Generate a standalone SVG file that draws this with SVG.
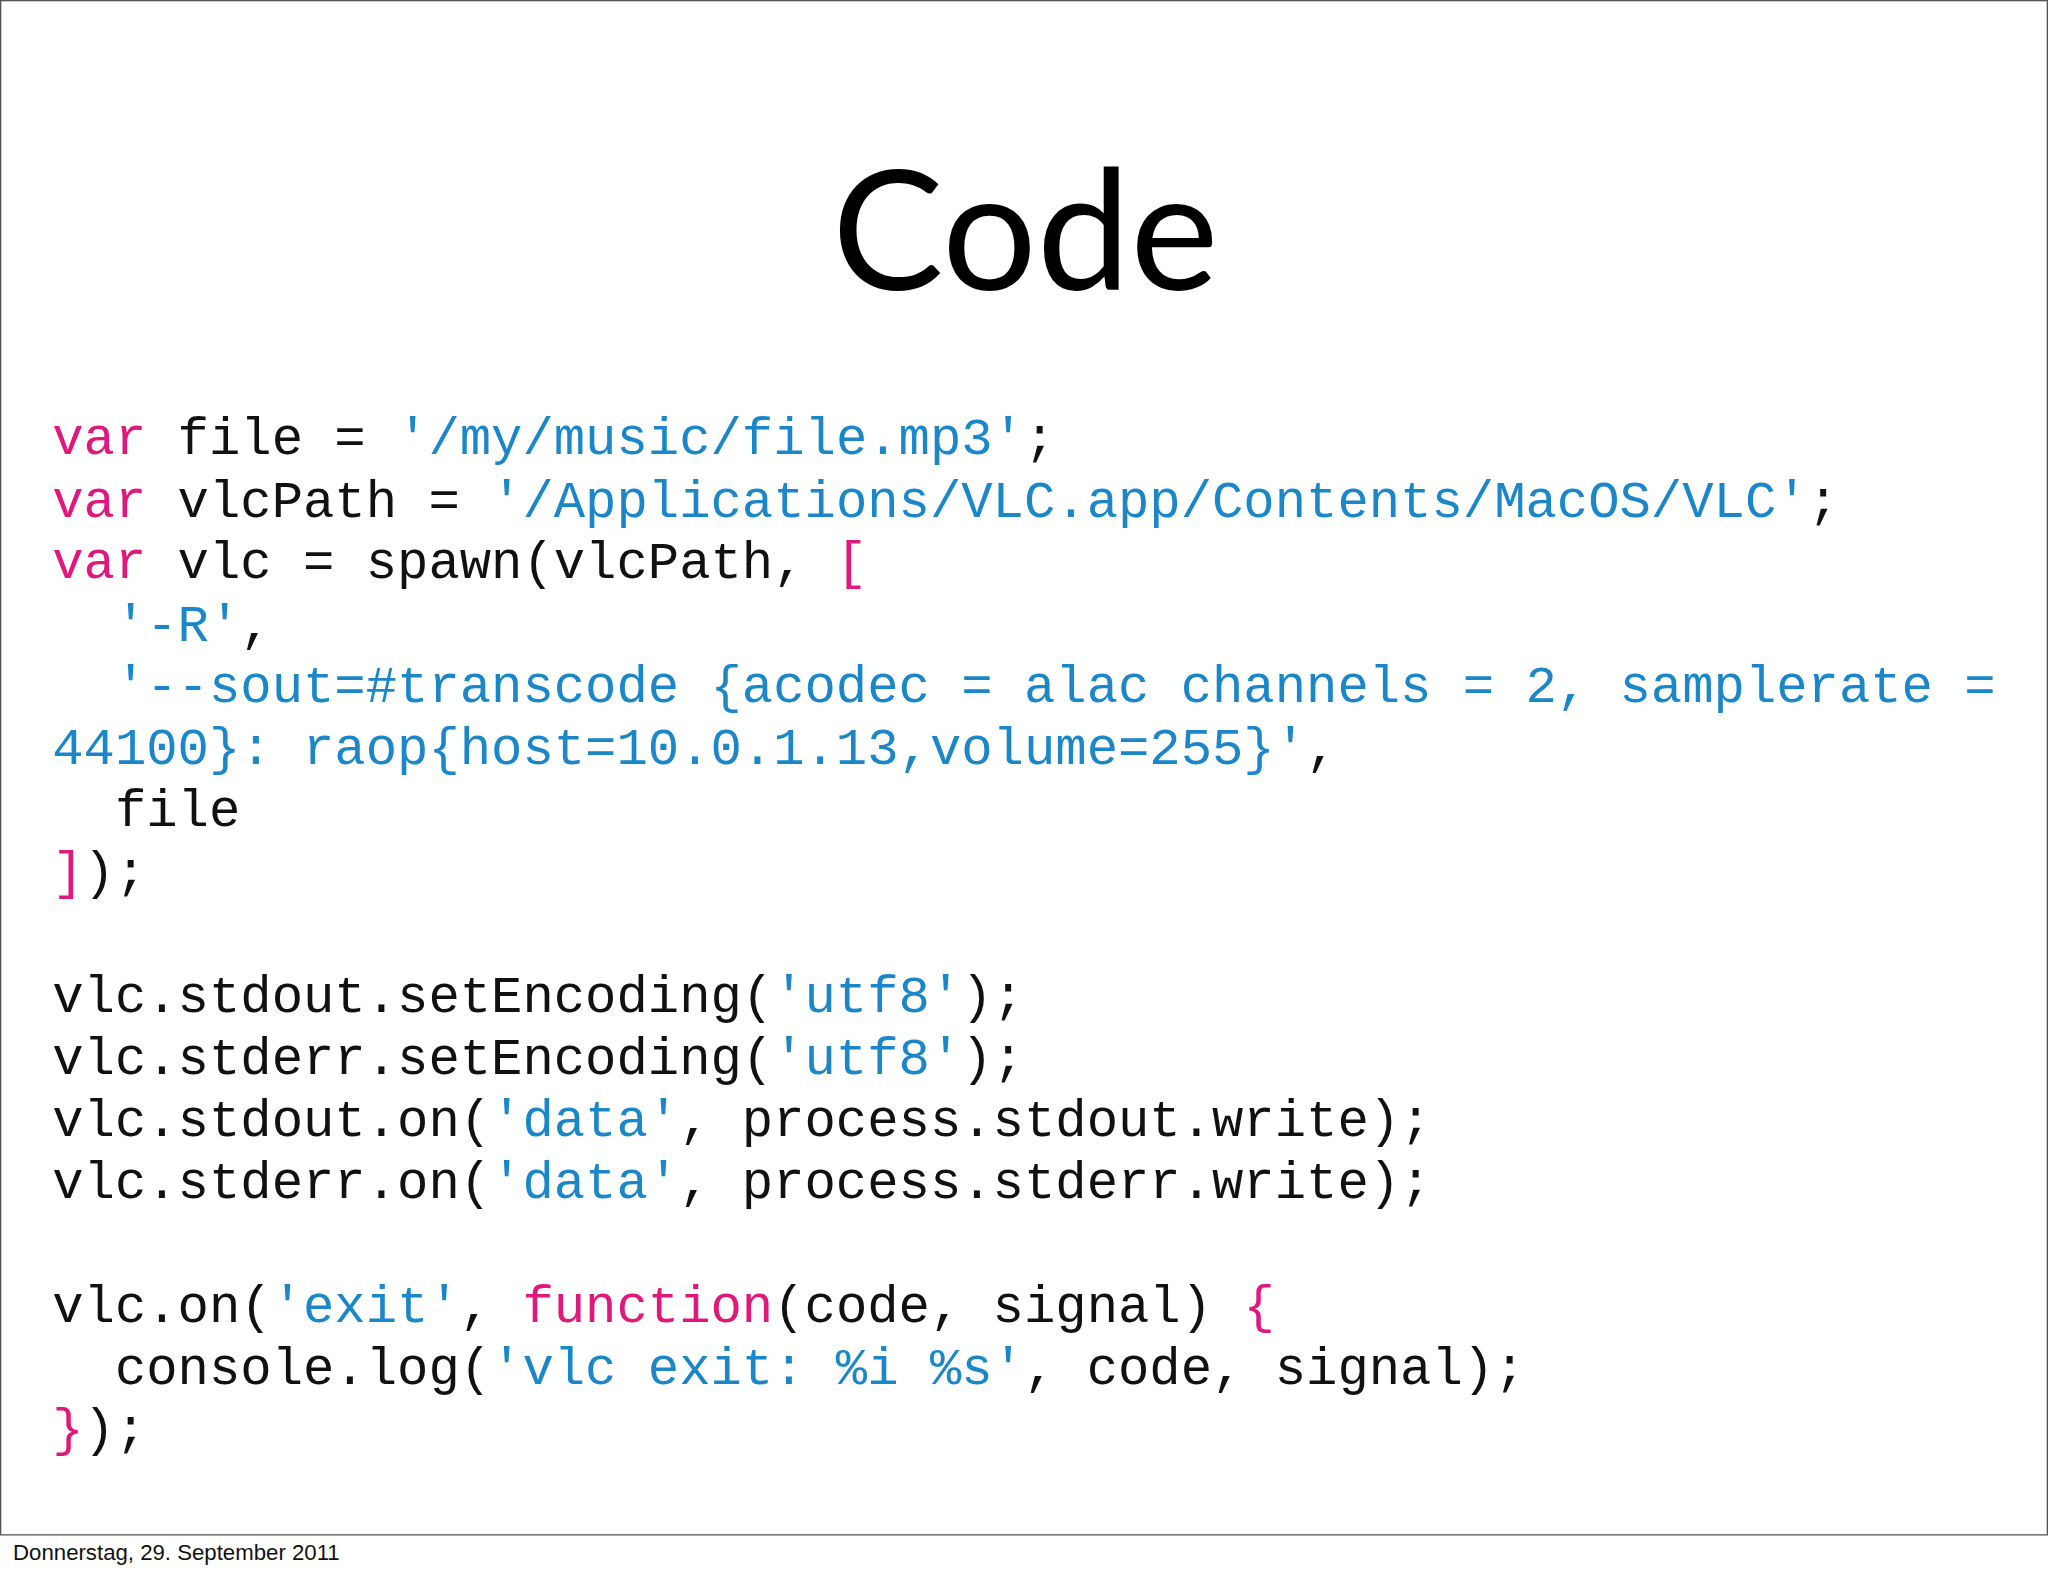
<svg xmlns="http://www.w3.org/2000/svg" width="2048" height="1576" viewBox="0 0 2048 1576">
<style>
.c{font-family:"Liberation Mono","DejaVu Sans Mono",monospace;font-size:40px;fill:#111;white-space:pre}
.k{fill:#e0187c}.s{fill:#1b87c9}
</style>
<rect width="2048" height="1576" fill="#fff"/>
<g transform="scale(1.30612,1.3046)">
<rect x="0.5" y="0.5" width="1567" height="1176" fill="#fff" stroke="#555" stroke-width="1"/>
<g id="title"><text x="785" y="222" text-anchor="middle" font-family="Lato,'Open Sans',sans-serif" font-size="128" fill="#000">Code</text></g>
<g id="code" class="c" xml:space="preserve">
<text x="40" y="348" class="c"><tspan class="k">var</tspan> file = <tspan class="s">'/my/music/file.mp3'</tspan>;</text>
<text x="40" y="396" class="c"><tspan class="k">var</tspan> vlcPath = <tspan class="s">'/Applications/VLC.app/Contents/MacOS/VLC'</tspan>;</text>
<text x="40" y="443" class="c"><tspan class="k">var</tspan> vlc = spawn(vlcPath, <tspan class="k">[</tspan></text>
<text x="40" y="491" class="c">  <tspan class="s">'-R'</tspan>,</text>
<text x="40" y="538" class="c">  <tspan class="s">'--sout=#transcode {acodec = alac channels = 2, samplerate =</tspan></text>
<text x="40" y="586" class="c"><tspan class="s">44100}: raop{host=10.0.1.13,volume=255}'</tspan>,</text>
<text x="40" y="633" class="c">  file</text>
<text x="40" y="681" class="c"><tspan class="k">]</tspan>);</text>
<text x="40" y="776" class="c">vlc.stdout.setEncoding(<tspan class="s">'utf8'</tspan>);</text>
<text x="40" y="823" class="c">vlc.stderr.setEncoding(<tspan class="s">'utf8'</tspan>);</text>
<text x="40" y="871" class="c">vlc.stdout.on(<tspan class="s">'data'</tspan>, process.stdout.write);</text>
<text x="40" y="918" class="c">vlc.stderr.on(<tspan class="s">'data'</tspan>, process.stderr.write);</text>
<text x="40" y="1013" class="c">vlc.on(<tspan class="s">'exit'</tspan>, <tspan class="k">function</tspan>(code, signal) <tspan class="k">{</tspan></text>
<text x="40" y="1061" class="c">  console.log(<tspan class="s">'vlc exit: %i %s'</tspan>, code, signal);</text>
<text x="40" y="1108" class="c"><tspan class="k">}</tspan>);</text>
</g>
<g id="footer"><text x="10" y="1196" font-family="'Liberation Sans',Arial,sans-serif" font-size="17" fill="#111">Donnerstag, 29. September 2011</text></g>
</g>
</svg>
